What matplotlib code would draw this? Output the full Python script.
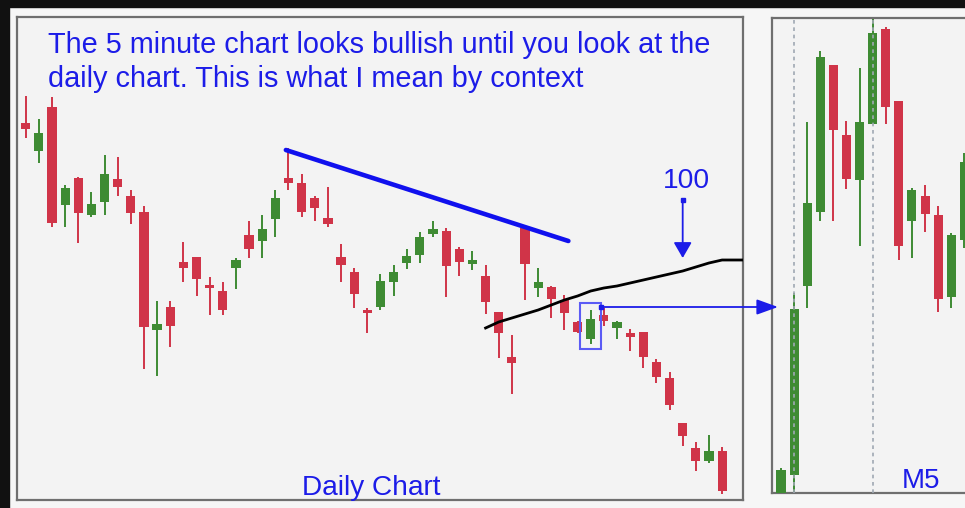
import matplotlib
matplotlib.use("Agg")
import matplotlib.pyplot as plt
from matplotlib.patches import Rectangle, ConnectionPatch

# grafico diario (velas)
d_open  = [377, 349, 393, 295, 322, 285, 298, 321, 304, 288, 170, 193, 238, 243, 215, 209, 232, 265,
           259, 281, 322, 317, 302, 282, 243, 228, 190, 193, 218, 237, 245, 266, 269, 251, 236, 224,
           188, 143, 272, 212, 213, 200, 178, 161, 185, 172, 167, 168, 138, 122, 77, 52, 39, 49]
d_high  = [404, 381, 403, 315, 323, 308, 345, 343, 310, 294, 199, 199, 258, 243, 223, 218, 242, 279,
           285, 310, 352, 326, 304, 313, 256, 232, 192, 226, 235, 251, 268, 279, 272, 253, 249, 235,
           188, 165, 272, 232, 214, 205, 179, 190, 192, 179, 171, 168, 141, 128, 77, 58, 65, 53]
d_low   = [362, 337, 273, 273, 257, 283, 285, 304, 276, 131, 124, 153, 218, 204, 185, 185, 211, 242,
           242, 263, 310, 283, 279, 273, 218, 192, 167, 190, 204, 231, 237, 263, 203, 224, 230, 186,
           142, 106, 200, 203, 182, 170, 167, 156, 174, 161, 149, 132, 117, 90, 54, 29, 37, 6]
d_close = [371, 367, 277, 312, 287, 296, 326, 313, 287, 173, 176, 174, 232, 221, 212, 190, 240, 251,
           271, 302, 317, 288, 292, 276, 235, 206, 187, 219, 228, 244, 263, 271, 234, 238, 240, 198,
           167, 137, 236, 218, 201, 187, 168, 181, 179, 178, 163, 143, 123, 95, 64, 39, 49, 9]

# media de 100 periodos
ma_idx = list(range(35, 56))
ma_val = [172, 178, 182, 186, 190, 195, 200, 204, 209, 212, 214, 217, 220, 223, 226, 229, 233, 237,
          240, 240, 240]

# linea de tendencia
trend_x = [19.8, 41.3]
trend_y = [350, 259]

# grafico M5
m_open  = [-10, 18, 207, 281, 428, 358, 313, 369, 464, 392, 272, 297, 278, 196, 253]
m_high  = [25, 200, 371, 442, 428, 372, 425, 485, 466, 392, 305, 308, 287, 260, 340]
m_low   = [-15, -15, 185, 272, 272, 304, 247, 369, 369, 233, 235, 261, 181, 185, 245]
m_close = [23, 184, 290, 436, 363, 314, 371, 460, 386, 247, 303, 279, 194, 258, 331]
m_sesiones = [1, 7]

RED = '#d03448'
GREEN = '#3e8b33'
BLUE = '#1c1ce8'

plt.rcParams['font.family'] = ['Liberation Sans', 'DejaVu Sans']


def velas(ax, o, h, l, c, ancho):
    x = list(range(len(o)))
    col = [GREEN if cc >= oo else RED for oo, cc in zip(o, c)]
    ax.vlines(x, l, h, colors=col, lw=1.4, zorder=2)
    base = [min(a, b) for a, b in zip(o, c)]
    alto = [max(abs(b - a), 2) for a, b in zip(o, c)]
    ax.bar(x, alto, ancho, bottom=base, color=col, linewidth=0, zorder=3)


def marco(ax):
    ax.set_facecolor('#f3f3f3')
    ax.set_xticks([])
    ax.set_yticks([])
    for s in ax.spines.values():
        s.set_color('#6f6f6f')
        s.set_linewidth(1.6)


fig = plt.figure(figsize=(9.65, 5.08), dpi=100, facecolor='#f6f6f6')
fig.patches.append(Rectangle((0, 1 - 7 / 508), 1, 7 / 508, transform=fig.transFigure, color='#111111'))
fig.patches.append(Rectangle((0, 0), 9 / 965, 1, transform=fig.transFigure, color='#111111'))

ax = fig.add_axes([17 / 965, 8 / 508, 726 / 965, 483 / 508])
ax2 = fig.add_axes([772 / 965, 15 / 508, 193 / 965, 475 / 508])
marco(ax)
marco(ax2)
ax2.spines['right'].set_visible(False)

velas(ax, d_open, d_high, d_low, d_close, 0.7)
ax.set_xlim(-0.662, 54.59)
ax.set_ylim(0, 483)

ax.plot(ma_idx, ma_val, color='black', lw=2.0, zorder=4)
ax.plot(trend_x, trend_y, color='#1010ee', lw=3.3, solid_capstyle='round', zorder=4)

# caja en la vela 43
ax.add_patch(Rectangle((42.15, 151), 1.6, 46, fill=False, edgecolor='#5b5bf5', lw=1.5, zorder=5))
ax.plot(43.8, 193, 's', ms=3, color=BLUE, zorder=6)

# flecha de la media
ax.annotate('', xy=(50, 242), xytext=(50, 300),
            arrowprops=dict(arrowstyle='-|>,head_length=0.95,head_width=0.55', color=BLUE, lw=1.3,
                            shrinkA=0, shrinkB=0, mutation_scale=10))
ax.plot(50, 300, 's', ms=3, color=BLUE)
ax.text(50.3, 312, '100', ha='center', va='baseline', fontsize=20.3, color=BLUE)

ax.text(0.0427, 0.9248, 'The 5 minute chart looks bullish until you look at the',
        transform=ax.transAxes, fontsize=20.8, color=BLUE, va='baseline')
ax.text(0.0427, 0.855, 'daily chart. This is what I mean by context',
        transform=ax.transAxes, fontsize=20.8, color=BLUE, va='baseline')
ax.text(0.4873, 0.0104, 'Daily Chart', transform=ax.transAxes, ha='center', va='baseline',
        fontsize=20.2, color=BLUE)

velas(ax2, m_open, m_high, m_low, m_close, 0.69)
ax2.set_xlim(-0.687, 14.05)
ax2.set_ylim(0, 475)
for s in m_sesiones:
    ax2.axvline(s, color='#9fa8b3', ls=(0, (2.2, 2.2)), lw=1.2, zorder=5)
ax2.text(0.771, 0.0099, 'M5', transform=ax2.transAxes, ha='center', va='baseline',
         fontsize=20, color=BLUE)

con = ConnectionPatch(xyA=(43.8, 193), coordsA='data', axesA=ax,
                      xyB=(-0.23, 186), coordsB='data', axesB=ax2,
                      arrowstyle='-|>,head_length=1.3,head_width=0.47', mutation_scale=10,
                      color=BLUE, lw=1.3, shrinkA=0, shrinkB=0, zorder=6)
fig.add_artist(con)

fig.savefig('out.png', dpi=100, facecolor=fig.get_facecolor())
